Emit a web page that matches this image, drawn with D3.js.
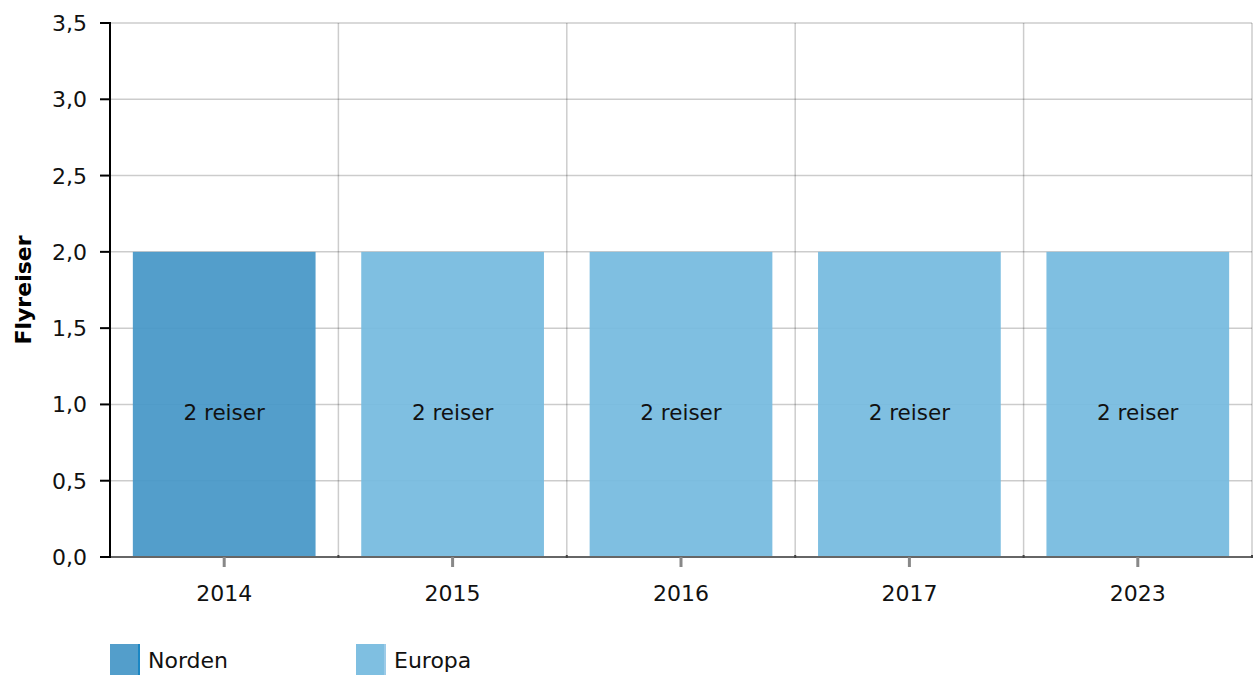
<!DOCTYPE html>
<html>
<head>
<meta charset="utf-8">
<script src="https://cdn.jsdelivr.net/npm/d3@7"></script>
<style>
  body { margin: 0; background: #fff; }
  text { font-family: "DejaVu Sans", Verdana, sans-serif; }
</style>
</head>
<body>
<div id="chart"></div>
<script>
// data
const years = ["2014", "2015", "2016", "2017", "2023"];
const trips = [2, 2, 2, 2, 2];
const regions = ["Norden", "Europa", "Europa", "Europa", "Europa"];
const barLabels = ["2 reiser", "2 reiser", "2 reiser", "2 reiser", "2 reiser"];
const legendNames = ["Norden", "Europa"];
const yTicks = [0, 0.5, 1, 1.5, 2, 2.5, 3, 3.5];

const width = 1253, height = 675;
const margin = { top: 23, right: 1, bottom: 118, left: 110 };

const svg = d3.select("#chart").append("svg")
    .attr("width", width)
    .attr("height", height);

const x = d3.scaleBand()
    .domain(years)
    .range([margin.left, width - margin.right])
    .paddingInner(0)
    .paddingOuter(0);

const y = d3.scaleLinear()
    .domain([0, 3.5])
    .range([height - margin.bottom, margin.top]);

const color = d3.scaleOrdinal()
    .domain(legendNames)
    .range(["#4697c7", "#75badf"]);
const legendBorder = d3.scaleOrdinal()
    .domain(legendNames)
    .range(["#1b87c4", "#9ccbe8"]);

const fmt = d => d3.format(".1f")(d).replace(".", ",");

// horizontal grid
svg.append("g")
    .selectAll("line")
    .data(yTicks.filter(d => d > 0))
    .join("line")
    .attr("x1", margin.left)
    .attr("x2", width - margin.right)
    .attr("y1", d => y(d))
    .attr("y2", d => y(d))
    .attr("stroke", "rgba(0,0,0,0.2)")
    .attr("stroke-width", 1.5);

// vertical grid at band edges
svg.append("g")
    .selectAll("line")
    .data(years)
    .join("line")
    .attr("x1", d => x(d) + x.bandwidth())
    .attr("x2", d => x(d) + x.bandwidth())
    .attr("y1", y(3.5))
    .attr("y2", y(0))
    .attr("stroke", "rgba(0,0,0,0.2)")
    .attr("stroke-width", 1.5);

// bars
const barW = x.bandwidth() * 0.8;
svg.append("g")
    .selectAll("rect")
    .data(years)
    .join("rect")
    .attr("x", d => x(d) + (x.bandwidth() - barW) / 2)
    .attr("y", (d, i) => y(trips[i]))
    .attr("width", barW)
    .attr("height", (d, i) => y(0) - y(trips[i]))
    .attr("fill", (d, i) => color(regions[i]))
    .attr("fill-opacity", 0.93);

// labels inside bars
svg.append("g")
    .selectAll("text")
    .data(years)
    .join("text")
    .attr("x", d => x(d) + x.bandwidth() / 2)
    .attr("y", (d, i) => y(trips[i] / 2) + 16)
    .attr("text-anchor", "middle")
    .attr("font-size", 21.5)
    .attr("fill", "#111")
    .text((d, i) => barLabels[i]);

// x axis
const xAxis = svg.append("g");
xAxis.append("line")
    .attr("x1", margin.left)
    .attr("x2", width - margin.right)
    .attr("y1", y(0))
    .attr("y2", y(0))
    .attr("stroke", "#666")
    .attr("stroke-width", 2);
xAxis.selectAll(".edge")
    .data(years)
    .join("line")
    .attr("class", "edge")
    .attr("x1", d => x(d) + x.bandwidth())
    .attr("x2", d => x(d) + x.bandwidth())
    .attr("y1", y(0) - 2)
    .attr("y2", y(0) + 1)
    .attr("stroke", "#444")
    .attr("stroke-width", 2);
xAxis.selectAll(".tick")
    .data(years)
    .join("line")
    .attr("class", "tick")
    .attr("x1", d => x(d) + x.bandwidth() / 2)
    .attr("x2", d => x(d) + x.bandwidth() / 2)
    .attr("y1", y(0))
    .attr("y2", y(0) + 10)
    .attr("stroke", "#888")
    .attr("stroke-width", 3);
xAxis.selectAll("text")
    .data(years)
    .join("text")
    .attr("x", d => x(d) + x.bandwidth() / 2)
    .attr("y", y(0) + 44)
    .attr("text-anchor", "middle")
    .attr("font-size", 22)
    .attr("fill", "#111")
    .text(d => d);

// y axis
const yAxis = svg.append("g");
yAxis.append("line")
    .attr("x1", margin.left)
    .attr("x2", margin.left)
    .attr("y1", y(3.5) - 1)
    .attr("y2", y(0) + 1)
    .attr("stroke", "#000")
    .attr("stroke-width", 2);
yAxis.selectAll("line.tk")
    .data(yTicks)
    .join("line")
    .attr("class", "tk")
    .attr("x1", margin.left - 10)
    .attr("x2", margin.left)
    .attr("y1", d => y(d))
    .attr("y2", d => y(d))
    .attr("stroke", "#000")
    .attr("stroke-width", 2);
yAxis.selectAll("text")
    .data(yTicks)
    .join("text")
    .attr("x", margin.left - 23)
    .attr("y", d => y(d) + 8)
    .attr("text-anchor", "end")
    .attr("font-size", 22)
    .attr("fill", "#111")
    .text(d => fmt(d));

svg.append("text")
    .attr("transform", `translate(31, ${(y(0) + y(3.5)) / 2}) rotate(-90)`)
    .attr("text-anchor", "middle")
    .style("font-weight", "bold")
    .attr("font-size", 22)
    .attr("fill", "#000")
    .text("Flyreiser");

// legend
const legend = svg.append("g")
    .selectAll("g")
    .data(legendNames)
    .join("g")
    .attr("transform", (d, i) => `translate(${margin.left + i * 246}, 644)`);
legend.append("rect")
    .attr("width", 30)
    .attr("height", 32)
    .attr("fill", d => color(d))
    .attr("fill-opacity", 0.93);
legend.append("rect")
    .attr("x", 28)
    .attr("width", 2)
    .attr("height", 32)
    .attr("fill", d => legendBorder(d));
legend.append("text")
    .attr("x", 38)
    .attr("y", 24)
    .attr("font-size", 22)
    .attr("fill", "#111")
    .text(d => d);
</script>
</body>
</html>
